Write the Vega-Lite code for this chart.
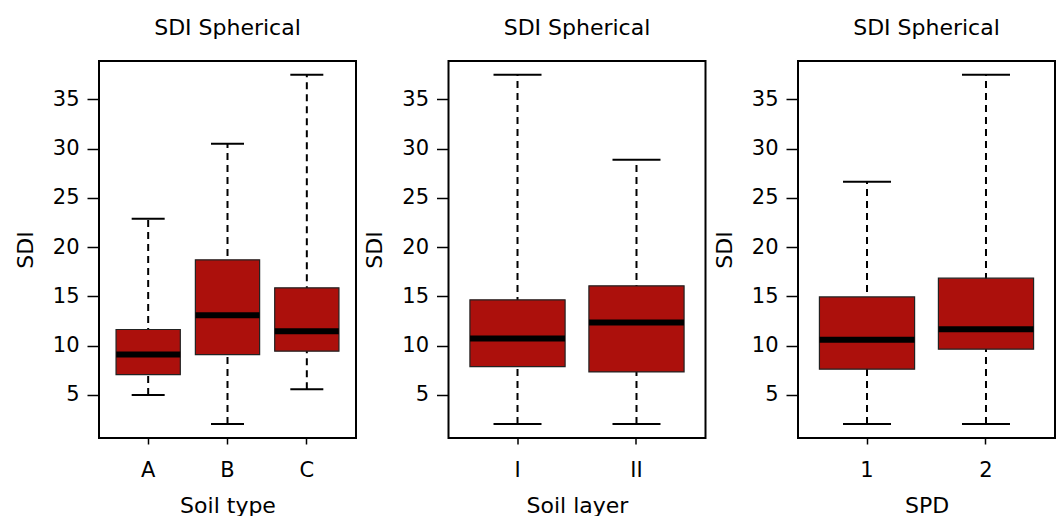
{
  "$schema": "https://vega.github.io/schema/vega-lite/v6.json",
  "background": "white",
  "padding": {"left": 13, "top": 16, "right": 0, "bottom": 0},
  "spacing": 92.5,
  "bounds": "flush",
  "datasets": {
    "soiltype": [
      {"group": "A", "lower": 5.0, "q1": 7.07, "median": 9.1, "q3": 11.64, "upper": 22.87},
      {"group": "B", "lower": 2.06, "q1": 9.1, "median": 13.09, "q3": 18.71, "upper": 30.49},
      {"group": "C", "lower": 5.58, "q1": 9.44, "median": 11.47, "q3": 15.87, "upper": 37.5}
    ],
    "soillayer": [
      {"group": "I", "lower": 2.06, "q1": 7.88, "median": 10.73, "q3": 14.65, "upper": 37.5},
      {"group": "II", "lower": 2.06, "q1": 7.34, "median": 12.35, "q3": 16.07, "upper": 28.87}
    ],
    "spd": [
      {"group": "1", "lower": 2.06, "q1": 7.61, "median": 10.59, "q3": 14.95, "upper": 26.63},
      {"group": "2", "lower": 2.06, "q1": 9.64, "median": 11.67, "q3": 16.85, "upper": 37.5}
    ]
  },
  "hconcat": [
    {
      "title": "SDI Spherical",
      "width": 257, "height": 377,
      "data": {"name": "soiltype"},
      "encoding": {
        "x": {"field": "group", "type": "nominal", "sort": null, "title": "Soil type",
              "scale": {"paddingInner": 0.19, "paddingOuter": 0.215}},
        "y": {"type": "quantitative", "scale": {"domain": [0.63, 38.89], "nice": false, "zero": false}}
      },
      "layer": [
        {"mark": {"type": "rule", "strokeDash": [7, 5], "strokeWidth": 2, "color": "black", "opacity": 1},
         "encoding": {"y": {"field": "lower", "title": "SDI"}, "y2": {"field": "upper"}}},
        {"mark": {"type": "tick", "size": 33, "thickness": 2, "color": "black", "opacity": 1},
         "encoding": {"y": {"field": "lower"}}},
        {"mark": {"type": "tick", "size": 33, "thickness": 2, "color": "black", "opacity": 1},
         "encoding": {"y": {"field": "upper"}}},
        {"mark": {"type": "bar", "fill": "#AC100C", "stroke": "#222222", "strokeWidth": 1.2, "opacity": 1},
         "encoding": {"y": {"field": "q1"}, "y2": {"field": "q3"}}},
        {"mark": {"type": "tick", "size": 64, "thickness": 6, "color": "black", "opacity": 1},
         "encoding": {"y": {"field": "median"}}}
      ]
    },
    {
      "title": "SDI Spherical",
      "width": 257, "height": 377,
      "data": {"name": "soillayer"},
      "encoding": {
        "x": {"field": "group", "type": "nominal", "sort": null, "title": "Soil layer",
              "scale": {"paddingInner": 0.2, "paddingOuter": 0.18}},
        "y": {"type": "quantitative", "scale": {"domain": [0.63, 38.89], "nice": false, "zero": false}}
      },
      "layer": [
        {"mark": {"type": "rule", "strokeDash": [7, 5], "strokeWidth": 2, "color": "black", "opacity": 1},
         "encoding": {"y": {"field": "lower", "title": "SDI"}, "y2": {"field": "upper"}}},
        {"mark": {"type": "tick", "size": 48, "thickness": 2, "color": "black", "opacity": 1},
         "encoding": {"y": {"field": "lower"}}},
        {"mark": {"type": "tick", "size": 48, "thickness": 2, "color": "black", "opacity": 1},
         "encoding": {"y": {"field": "upper"}}},
        {"mark": {"type": "bar", "fill": "#AC100C", "stroke": "#222222", "strokeWidth": 1.2, "opacity": 1},
         "encoding": {"y": {"field": "q1"}, "y2": {"field": "q3"}}},
        {"mark": {"type": "tick", "size": 95, "thickness": 6, "color": "black", "opacity": 1},
         "encoding": {"y": {"field": "median"}}}
      ]
    },
    {
      "title": "SDI Spherical",
      "width": 257, "height": 377,
      "data": {"name": "spd"},
      "encoding": {
        "x": {"field": "group", "type": "nominal", "sort": null, "title": "SPD",
              "scale": {"paddingInner": 0.2, "paddingOuter": 0.18}},
        "y": {"type": "quantitative", "scale": {"domain": [0.63, 38.89], "nice": false, "zero": false}}
      },
      "layer": [
        {"mark": {"type": "rule", "strokeDash": [7, 5], "strokeWidth": 2, "color": "black", "opacity": 1},
         "encoding": {"y": {"field": "lower", "title": "SDI"}, "y2": {"field": "upper"}}},
        {"mark": {"type": "tick", "size": 48, "thickness": 2, "color": "black", "opacity": 1},
         "encoding": {"y": {"field": "lower"}}},
        {"mark": {"type": "tick", "size": 48, "thickness": 2, "color": "black", "opacity": 1},
         "encoding": {"y": {"field": "upper"}}},
        {"mark": {"type": "bar", "fill": "#AC100C", "stroke": "#222222", "strokeWidth": 1.2, "opacity": 1},
         "encoding": {"y": {"field": "q1"}, "y2": {"field": "q3"}}},
        {"mark": {"type": "tick", "size": 95, "thickness": 6, "color": "black", "opacity": 1},
         "encoding": {"y": {"field": "median"}}}
      ]
    }
  ],
  "config": {
    "font": "DejaVu Sans",
    "view": {"stroke": "black", "strokeWidth": 2},
    "axis": {
      "domain": false, "grid": false,
      "labelFont": "DejaVu Sans", "titleFont": "DejaVu Sans",
      "labelColor": "black", "titleColor": "black", "tickColor": "black",
      "tickWidth": 1.5, "titleFontWeight": "normal",
      "labelFontSize": 21, "titleFontSize": 22
    },
    "axisY": {"values": [5, 10, 15, 20, 25, 30, 35], "tickSize": 12, "labelPadding": 8, "titlePadding": 15},
    "axisX": {"labelAngle": 0, "tickSize": 6, "labelPadding": 15, "titlePadding": 15},
    "title": {"font": "DejaVu Sans", "fontSize": 22, "fontWeight": "normal", "color": "black",
              "baseline": "alphabetic", "offset": 21, "anchor": "middle", "frame": "group"}
  }
}
